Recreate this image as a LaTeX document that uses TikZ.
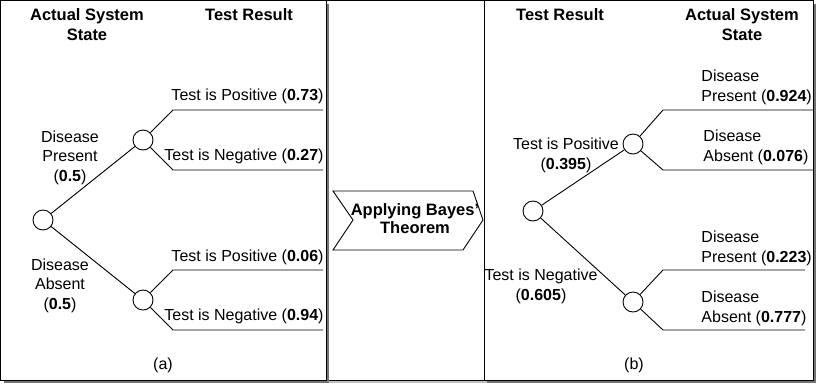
\documentclass[tikz,border=0pt]{standalone}
\usepackage{fontspec}
\setmainfont{Liberation Sans}
\usetikzlibrary{shadows}
\begin{document}
\begin{tikzpicture}[x=1pt,y=-1pt,line width=0.9pt,
  every node/.style={font=\fontsize{16}{19.3}\selectfont,inner sep=0pt,align=center},
  hdr/.style={font=\fontsize{16.5}{19.5}\selectfont\bfseries},
  chance/.style={draw,circle,fill=white,minimum size=20pt},
  panel/.style={draw,fill=white,drop shadow={shadow xshift=3pt,shadow yshift=-3pt,fill=black!55,opacity=1}}]
  \useasboundingbox (0,0) rectangle (826,384);
  \path[panel,drop shadow={shadow xshift=3pt,shadow yshift=-3pt,fill=black!25,opacity=1}] (326,0.5) rectangle (484,380);
  \path[panel] (0.5,0.5) rectangle (326,380);
  \path[panel] (484,0.5) rectangle (813,380);
  \node[hdr,anchor=base] (HA1) at (87,40) {Actual System\\State};
  \node[hdr,anchor=base] (HA2) at (249,20) {Test Result};
  \node[chance] (RA) at (43,220) {};
  \node[chance] (DP) at (143,140) {};
  \node[chance] (DA) at (143,300) {};
  \coordinate (DPp) at (173,110); \coordinate (DPpe) at (323,110);
  \coordinate (DPn) at (173,170); \coordinate (DPne) at (323,170);
  \coordinate (DAp) at (173,270); \coordinate (DApe) at (323,270);
  \coordinate (DAn) at (173,330); \coordinate (DAne) at (323,330);
  \draw (RA) -- (DP);
  \draw (RA) -- (DA);
  \draw (DP) -- (DPp) -- (DPpe);
  \draw (DP) -- (DPn) -- (DPne);
  \draw (DA) -- (DAp) -- (DApe);
  \draw (DA) -- (DAn) -- (DAne);
  \node[anchor=base] at (70,181) {Disease\\Present\\(\textbf{0.5})};
  \node[anchor=base] at (60,309) {Disease\\Absent\\(\textbf{0.5})};
  \node[anchor=base east] at (324,100) {Test is Positive (\textbf{0.73})};
  \node[anchor=base east] at (324,160) {Test is Negative (\textbf{0.27})};
  \node[anchor=base east] at (324,261) {Test is Positive (\textbf{0.06})};
  \node[anchor=base east] at (324,320) {Test is Negative (\textbf{0.94})};
  \node[anchor=base] at (163,369) {(a)};
  \draw[fill=white] (333,191) -- (473,191) -- (483,220) -- (463,250) -- (333,250) -- (353,220) -- cycle;
  \node[hdr,anchor=base,font=\fontsize{16.5}{18}\selectfont\bfseries] (BT) at (415,233) {Applying Bayes'\\Theorem};
  \node[hdr,anchor=base] (HB1) at (560,20) {Test Result};
  \node[hdr,anchor=base] (HB2) at (742,40) {Actual System\\State};
  \node[chance] (RB) at (533,211) {};
  \node[chance] (TP) at (633,144) {};
  \node[chance] (TN) at (633,302) {};
  \coordinate (TPd) at (663,110); \coordinate (TPde) at (813,110);
  \coordinate (TPh) at (663,170); \coordinate (TPhe) at (813,170);
  \coordinate (TNd) at (663,270); \coordinate (TNde) at (805,270);
  \coordinate (TNh) at (663,330); \coordinate (TNhe) at (805,330);
  \draw (RB) -- (TP);
  \draw (RB) -- (TN);
  \draw (TP) -- (TPd) -- (TPde);
  \draw (TP) -- (TPh) -- (TPhe);
  \draw (TN) -- (TNd) -- (TNde);
  \draw (TN) -- (TNh) -- (TNhe);
  \node[anchor=base] at (566,169) {Test is Positive\\(\textbf{0.395})};
  \node[anchor=base] at (541,300) {Test is Negative\\(\textbf{0.605})};
  \node[anchor=base west,align=left] at (701,101) {Disease\\Present (\textbf{0.924})};
  \node[anchor=base west,align=left] at (703,161) {Disease\\Absent (\textbf{0.076})};
  \node[anchor=base west,align=left] at (701,262) {Disease\\Present (\textbf{0.223})};
  \node[anchor=base west,align=left] at (701,322) {Disease\\Absent (\textbf{0.777})};
  \node[anchor=base] at (634,369) {(b)};
\end{tikzpicture}
\end{document}
